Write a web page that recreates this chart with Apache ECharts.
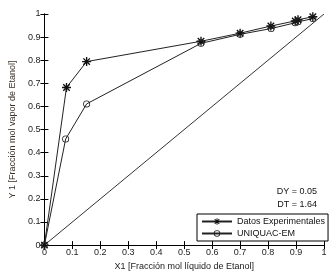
<!DOCTYPE html>
<html><head><meta charset="utf-8">
<script src="https://cdn.jsdelivr.net/npm/echarts@6/dist/echarts.min.js"></script>
<style>html,body{margin:0;padding:0;background:#fff}#c{width:334px;height:276px}</style>
</head><body><div id="c"></div>
<script>
var xTicks = [0,0.1,0.2,0.3,0.4,0.5,0.6,0.7,0.8,0.9,1];
var xExp = [0, 0.079, 0.151, 0.56, 0.70, 0.81, 0.897, 0.907, 0.96];
var yExp = [0, 0.682, 0.794, 0.882, 0.917, 0.948, 0.970, 0.975, 0.988];
var xCalc = [0, 0.076, 0.151, 0.56, 0.70, 0.811, 0.897, 0.907, 0.96];
var yCalc = [0, 0.459, 0.611, 0.873, 0.912, 0.937, 0.962, 0.966, 0.980];
var xDiag = [0, 1];
var yDiag = [0, 1];
var seriesNames = ['Datos Experimentales', 'UNIQUAC-EM'];
var notes = ['DY = 0.05', 'DT = 1.64'];

function pairs(xs, ys){ return xs.map(function(x,i){return [x, ys[i]];}); }
var FONT = 'Liberation Sans, Arial, sans-serif';
var star = 'path://M-0.75,-5L0.75,-5L0.75,5L-0.75,5Z' +
  'M-5,-0.75L5,-0.75L5,0.75L-5,0.75Z' +
  'M-3.07,-4.13L4.13,3.07L3.07,4.13L-4.13,-3.07Z' +
  'M-4.13,3.07L3.07,-4.13L4.13,-3.07L-3.07,4.13Z';
var ring = 'path://M-5,0A5,5 0 1,0 5,0A5,5 0 1,0 -5,0Z' +
  'M-3.8,0A3.8,3.8 0 1,1 3.8,0A3.8,3.8 0 1,1 -3.8,0Z';
var axCommon = {
  type:'value', min:0, max:1, interval:0.1,
  axisLine:{show:true, lineStyle:{color:'#000', width:1}},
  axisTick:{show:true, inside:true, length:4, lineStyle:{color:'#000'}},
  splitLine:{show:false}
};
var chart = echarts.init(document.getElementById('c'));
chart.setOption({
  animation:false,
  backgroundColor:'#fff',
  grid:{left:40, right:10, top:14, bottom:28},
  xAxis:[
    Object.assign({}, axCommon, {position:'bottom',
      name:'X1 [Fracción mol líquido de Etanol]', nameLocation:'middle', nameGap:13,
      nameTextStyle:{fontFamily:FONT, fontSize:9, color:'#222'},
      axisLabel:{fontFamily:FONT, fontSize:9, color:'#222', margin:3,
        formatter:function(v){return String(Math.round(v*10)/10);}}}),
    Object.assign({}, axCommon, {position:'top', axisLabel:{show:false}})
  ],
  yAxis:[
    Object.assign({}, axCommon, {position:'left',
      name:'Y 1 [Fracción mol vapor de Etanol]', nameLocation:'middle', nameGap:26, nameRotate:90,
      nameTextStyle:{fontFamily:FONT, fontSize:9, color:'#3a3028'},
      axisLabel:{fontFamily:FONT, fontSize:9, color:'#222', margin:4,
        formatter:function(v){return String(Math.round(v*10)/10);}}}),
    Object.assign({}, axCommon, {position:'right', axisLabel:{show:false}})
  ],
  legend:{
    left:197, top:214, orient:'vertical',
    backgroundColor:'#fff', borderColor:'#000', borderWidth:1, borderRadius:0,
    padding:[3,3,3,4], itemGap:3, itemWidth:30, itemHeight:8,
    textStyle:{fontFamily:FONT, fontSize:9, color:'#111'},
    data:seriesNames
  },
  graphic:[
    {type:'text', right:17, top:187, style:{text:notes[0], font:'9px '+FONT, fill:'#111', textAlign:'right'}},
    {type:'text', right:17, top:200, style:{text:notes[1], font:'9px '+FONT, fill:'#111', textAlign:'right'}}
  ],
  series:[
    {name:seriesNames[0], type:'line', data:pairs(xExp,yExp), symbol:star, symbolSize:9,
      color:'#111', lineStyle:{color:'#222', width:1}, itemStyle:{color:'#111'}, z:3},
    {name:seriesNames[1], type:'line', data:pairs(xCalc,yCalc), symbol:ring, symbolSize:7,
      color:'#222', lineStyle:{color:'#222', width:1}, itemStyle:{color:'#222'}, z:3},
    {name:'diag', type:'line', data:pairs(xDiag,yDiag), symbol:'none',
      color:'#333', lineStyle:{color:'#333', width:1}, z:2}
  ]
});
</script></body></html>
